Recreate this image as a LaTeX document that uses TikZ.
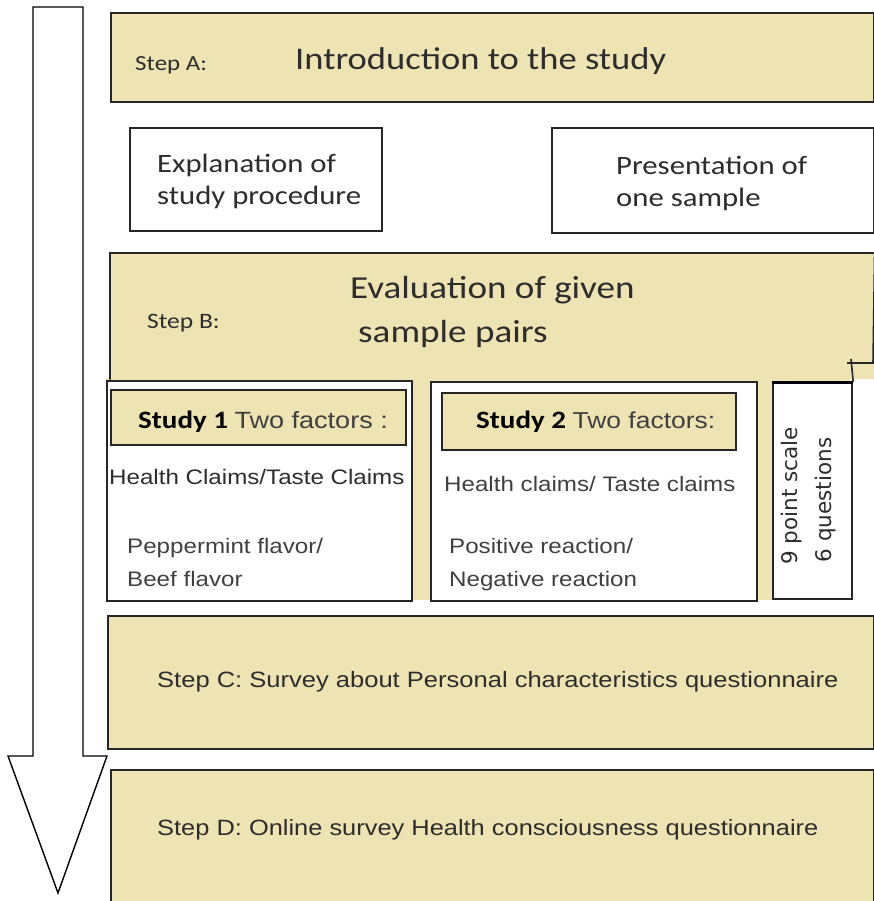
\documentclass[tikz,border=0pt]{standalone}
\usepackage{fontspec}
\usepackage{xcolor}
\usepackage{tikz}
\usetikzlibrary{positioning}
\newfontfamily\calfont{Carlito}[FakeStretch=1.16]
\newfontfamily\arfont{Liberation Sans}[FakeStretch=1.15]
\newfontfamily\vefont{DejaVu Sans}
\definecolor{stepfill}{RGB}{237,227,179}
\definecolor{inkgray}{RGB}{45,45,45}

\begin{document}
\begin{tikzpicture}[x=1pt,y=-1pt,
	box/.style={draw=black!85,line width=1.6pt,fill=white,anchor=north west,inner sep=0pt},
	stepbox/.style={box,fill=stepfill},
	label/.style={anchor=base west,inner sep=0pt,text=inkgray}]
	\useasboundingbox (0,0) rectangle (874,901);
	\draw[line width=1.4pt,fill=white] (33,7) -- (83,7) -- (83,756) -- (107,756) -- (58,893) -- (8,756) -- (33,756) -- cycle;

	\node[stepbox,minimum width=763,minimum height=89] (stepA) at (110,12) {};
	\node[label,font=\calfont\fontsize{21.5}{26}\selectfont] (stepAname) at (135,71) {Step A:};
	\node[label,font=\calfont\fontsize{31.5}{38}\selectfont] (intro) at (295,70) {Introduction to the study};

	\node[box,minimum width=252,minimum height=103] (explain) at (129,127) {};
	\node[label,font=\calfont\fontsize{26.5}{32}\selectfont] (explainA) at (157,173) {Explanation of};
	\node[label,font=\calfont\fontsize{26.5}{32}\selectfont] (explainB) at (157,205) {study procedure};
	\node[box,minimum width=322,minimum height=105] (present) at (551,127) {};
	\node[label,font=\calfont\fontsize{26.5}{32}\selectfont] (presentA) at (616,175) {Presentation of};
	\node[label,font=\calfont\fontsize{26.5}{32}\selectfont] (presentB) at (616,207) {one sample};

	\node[stepbox,draw=none,minimum width=763,minimum height=125] (stepB) at (110,253) {};
	\fill[stepfill] (106,378) rectangle (851,600);
	\draw[black!85,line width=1.6pt] (stepB.south west) -- (stepB.north west) -- (stepB.north east) -- (873,363) -- (847,363);
	\node[label,font=\calfont\fontsize{22}{26}\selectfont] (stepBname) at (147,328) {Step B:};
	\node[label,font=\calfont\fontsize{32}{38}\selectfont] (evalA) at (350,298) {Evaluation of given};
	\node[label,font=\calfont\fontsize{32}{38}\selectfont] (evalB) at (358,342) {sample pairs};

	\node[box,line width=1.5pt,minimum width=305,minimum height=220] (study1) at (106,380) {};
	\node[stepbox,minimum width=295,minimum height=55] (study1head) at (110,389) {};
	\node[label] (study1name) at (138,428) {\calfont\bfseries\fontsize{25}{30}\selectfont\color{black}Study 1 \arfont\mdseries\fontsize{23.5}{28}\selectfont\color{black!75}Two factors :};
	\node[label,font=\arfont\fontsize{21}{26}\selectfont] (claims1) at (109,484) {Health Claims/Taste Claims};
	\node[label,font=\arfont\fontsize{21}{26}\selectfont,text=black!75] (flavorA) at (127,553) {Peppermint flavor/};
	\node[label,font=\arfont\fontsize{21}{26}\selectfont,text=black!75] (flavorB) at (127,586) {Beef flavor};

	\node[box,line width=1.5pt,minimum width=326,minimum height=219] (study2) at (430,381) {};
	\node[stepbox,minimum width=294,minimum height=57] (study2head) at (441,392) {};
	\node[label] (study2name) at (476,428) {\calfont\bfseries\fontsize{25}{30}\selectfont\color{black}Study 2 \arfont\mdseries\fontsize{23}{28}\selectfont\color{black!75}Two factors:};
	\node[label,font=\arfont\fontsize{21}{26}\selectfont,text=black!75] (claims2) at (444,491) {Health claims/ Taste claims};
	\node[label,font=\arfont\fontsize{21}{26}\selectfont,text=black!75] (reactA) at (449,553) {Positive reaction/};
	\node[label,font=\arfont\fontsize{21}{26}\selectfont,text=black!75] (reactB) at (449,586) {Negative reaction};

	\node[box,line width=2.2pt,minimum width=79,minimum height=216] (scale) at (772,382) {};
	\draw[black,line width=3pt] (scale.north west) -- (scale.north east);
	\draw[black!85,line width=1.6pt] (851,359) -- (scale.north east);
	\node[font=\vefont\fontsize{21.5}{26}\selectfont,rotate=90,inner sep=0pt,text=inkgray] (scaleA) at (792,496) {9 point scale};
	\node[font=\vefont\fontsize{21.5}{26}\selectfont,rotate=90,inner sep=0pt,text=inkgray] (scaleB) at (826,500) {6 questions};

	\node[stepbox,minimum width=766,minimum height=133] (stepC) at (107,615) {};
	\node[label,font=\arfont\fontsize{22.2}{27}\selectfont] (stepCtext) at (157,687) {Step C: Survey about Personal characteristics questionnaire};
	\node[stepbox,minimum width=763,minimum height=140] (stepD) at (110,769) {};
	\node[label,font=\arfont\fontsize{22.1}{27}\selectfont] (stepDtext) at (157,835) {Step D: Online survey Health consciousness questionnaire};
\end{tikzpicture}
\end{document}
